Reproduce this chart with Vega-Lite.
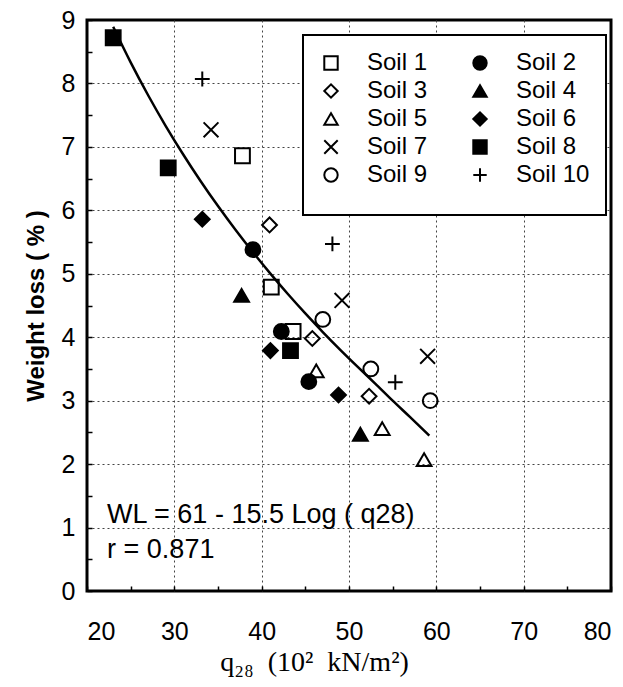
{
  "$schema": "https://vega.github.io/schema/vega-lite/v6.json",
  "width": 524,
  "height": 571,
  "autosize": {"type": "none"},
  "padding": {"left": 87, "top": 20, "right": 12, "bottom": 96},
  "background": "white",
  "config": {
    "view": {"stroke": "black", "strokeWidth": 3},
    "font": "Liberation Sans",
    "axis": {"domain": false},
    "legend": {
      "strokeColor": "black",
      "strokeWidth": 2,
      "fillColor": "white",
      "padding": 16,
      "labelFontSize": 24,
      "labelColor": "black",
      "labelOffset": 24,
      "columnPadding": 40,
      "rowPadding": 4,
      "symbolSize": 180,
      "symbolStrokeWidth": 2,
      "symbolStrokeColor": "black"
    }
  },
  "datasets": {
    "curve": [
      {"q": 23, "wl": 8.893}, {"q": 25, "wl": 8.332}, {"q": 27, "wl": 7.814},
      {"q": 29, "wl": 7.333}, {"q": 31, "wl": 6.884}, {"q": 33, "wl": 6.463},
      {"q": 35, "wl": 6.067}, {"q": 37, "wl": 5.693}, {"q": 39, "wl": 5.339},
      {"q": 41, "wl": 5.002}, {"q": 43, "wl": 4.681}, {"q": 45, "wl": 4.375},
      {"q": 47, "wl": 4.082}, {"q": 49, "wl": 3.802}, {"q": 51, "wl": 3.533},
      {"q": 53, "wl": 3.27}, {"q": 55, "wl": 3.0}, {"q": 57, "wl": 2.74},
      {"q": 59.2, "wl": 2.45}
    ],
    "points": [
      {"soil": "Soil 1", "q": 37.8, "wl": 6.86},
      {"soil": "Soil 1", "q": 41.1, "wl": 4.79},
      {"soil": "Soil 1", "q": 43.6, "wl": 4.09},
      {"soil": "Soil 2", "q": 39.0, "wl": 5.38},
      {"soil": "Soil 2", "q": 42.25, "wl": 4.09},
      {"soil": "Soil 2", "q": 45.4, "wl": 3.3},
      {"soil": "Soil 3", "q": 40.9, "wl": 5.77},
      {"soil": "Soil 3", "q": 45.8, "wl": 3.98},
      {"soil": "Soil 3", "q": 52.3, "wl": 3.07},
      {"soil": "Soil 4", "q": 37.7, "wl": 4.66},
      {"soil": "Soil 4", "q": 51.3, "wl": 2.47},
      {"soil": "Soil 5", "q": 46.25, "wl": 3.47},
      {"soil": "Soil 5", "q": 53.8, "wl": 2.56},
      {"soil": "Soil 5", "q": 58.6, "wl": 2.07},
      {"soil": "Soil 6", "q": 33.2, "wl": 5.86},
      {"soil": "Soil 6", "q": 41.0, "wl": 3.79},
      {"soil": "Soil 6", "q": 48.8, "wl": 3.09},
      {"soil": "Soil 7", "q": 34.2, "wl": 7.27},
      {"soil": "Soil 7", "q": 49.2, "wl": 4.58},
      {"soil": "Soil 7", "q": 59.0, "wl": 3.7},
      {"soil": "Soil 8", "q": 23.0, "wl": 8.72},
      {"soil": "Soil 8", "q": 29.3, "wl": 6.67},
      {"soil": "Soil 8", "q": 43.3, "wl": 3.79},
      {"soil": "Soil 9", "q": 47.0, "wl": 4.28},
      {"soil": "Soil 9", "q": 52.5, "wl": 3.5},
      {"soil": "Soil 9", "q": 59.3, "wl": 3.0},
      {"soil": "Soil 10", "q": 33.2, "wl": 8.07},
      {"soil": "Soil 10", "q": 48.1, "wl": 5.47},
      {"soil": "Soil 10", "q": 55.3, "wl": 3.29}
    ],
    "notes": [
      {"note": "WL = 61 - 15.5 Log ( q28)", "q": 22.3, "wl": 1.07},
      {"note": "r = 0.871", "q": 22.3, "wl": 0.52}
    ]
  },
  "encoding": {
    "x": {
      "field": "q", "type": "quantitative",
      "scale": {"domain": [20, 80], "nice": false, "zero": false},
      "axis": {
        "title": "q₂₈ \u00a0(10² \u00a0kN/m²)",
        "titleFont": "Liberation Serif",
        "titleFontSize": 28,
        "titleFontWeight": "normal",
        "titleColor": "black",
        "titleX": 227,
        "titleY": 57,
        "values": [20, 25, 30, 35, 40, 45, 50, 55, 60, 65, 70, 75, 80],
        "labelExpr": "datum.value % 10 === 0 ? format(datum.value, 'd') : ''",
        "labelOverlap": false,
        "labelFontSize": 25,
        "labelColor": "black",
        "labelPadding": 33,
        "tickSize": -5,
        "tickColor": "black",
        "tickWidth": 1.5,
        "grid": true,
        "gridColor": "#444444",
        "gridDash": [2, 3],
        "gridWidth": 1,
        "gridOpacity": {"condition": {"test": "datum.value % 10 !== 0 || datum.value === 20 || datum.value === 80", "value": 0}, "value": 1}
      }
    },
    "y": {
      "field": "wl", "type": "quantitative",
      "scale": {"domain": [0, 9], "nice": false},
      "axis": {
        "title": "Weight loss ( % )",
        "titleFontSize": 24,
        "titleFontWeight": "bold",
        "titleColor": "black",
        "titlePadding": 13,
        "values": [0, 0.5, 1, 1.5, 2, 2.5, 3, 3.5, 4, 4.5, 5, 5.5, 6, 6.5, 7, 7.5, 8, 8.5, 9],
        "labelExpr": "datum.value % 1 === 0 ? format(datum.value, 'd') : ''",
        "labelOverlap": false,
        "labelFontSize": 25,
        "labelColor": "black",
        "labelPadding": 17,
        "tickSize": -5,
        "tickColor": "black",
        "tickWidth": 1.5,
        "grid": true,
        "gridColor": "#444444",
        "gridDash": [2, 3],
        "gridWidth": 1,
        "gridOpacity": {"condition": {"test": "datum.value % 1 !== 0 || datum.value === 0 || datum.value === 9", "value": 0}, "value": 1}
      }
    }
  },
  "layer": [
    {
      "data": {"name": "points"},
      "mark": {"type": "point", "size": 220, "strokeWidth": 2, "opacity": 1},
      "encoding": {
        "shape": {
          "field": "soil", "type": "nominal",
          "scale": {
            "domain": ["Soil 1", "Soil 2", "Soil 3", "Soil 4", "Soil 5", "Soil 6", "Soil 7", "Soil 8", "Soil 9", "Soil 10"],
            "range": ["square", "circle", "diamond", "triangle-up", "triangle-up", "diamond", "M-1,-1L1,1M-1,1L1,-1", "square", "circle", "M-1,0L1,0M0,-1L0,1"]
          },
          "legend": {"title": "\u00a0", "titleOrient": "bottom", "titleFontSize": 10, "titlePadding": 2, "orient": "none", "legendX": 216, "legendY": 15, "columns": 2, "direction": "horizontal"}
        },
        "fill": {
          "field": "soil", "type": "nominal",
          "scale": {
            "domain": ["Soil 1", "Soil 2", "Soil 3", "Soil 4", "Soil 5", "Soil 6", "Soil 7", "Soil 8", "Soil 9", "Soil 10"],
            "range": ["transparent", "black", "transparent", "black", "transparent", "black", "transparent", "black", "transparent", "transparent"]
          },
          "legend": {"title": "\u00a0", "titleOrient": "bottom", "titleFontSize": 10, "titlePadding": 2, "orient": "none", "legendX": 216, "legendY": 15, "columns": 2, "direction": "horizontal"}
        },
        "stroke": {
          "field": "soil", "type": "nominal",
          "scale": {
            "domain": ["Soil 1", "Soil 2", "Soil 3", "Soil 4", "Soil 5", "Soil 6", "Soil 7", "Soil 8", "Soil 9", "Soil 10"],
            "range": ["black", "black", "black", "black", "black", "black", "black", "black", "black", "black"]
          },
          "legend": {"title": "\u00a0", "titleOrient": "bottom", "titleFontSize": 10, "titlePadding": 2, "orient": "none", "legendX": 216, "legendY": 15, "columns": 2, "direction": "horizontal"}
        }
      }
    },
    {
      "data": {"name": "curve"},
      "mark": {"type": "line", "color": "black", "strokeWidth": 2.5, "interpolate": "monotone"},
      "encoding": {}
    },
    {
      "data": {"name": "notes"},
      "mark": {"type": "text", "align": "left", "baseline": "alphabetic", "fontSize": 27, "color": "black"},
      "encoding": {
        "text": {"field": "note", "type": "nominal"}
      }
    }
  ]
}
